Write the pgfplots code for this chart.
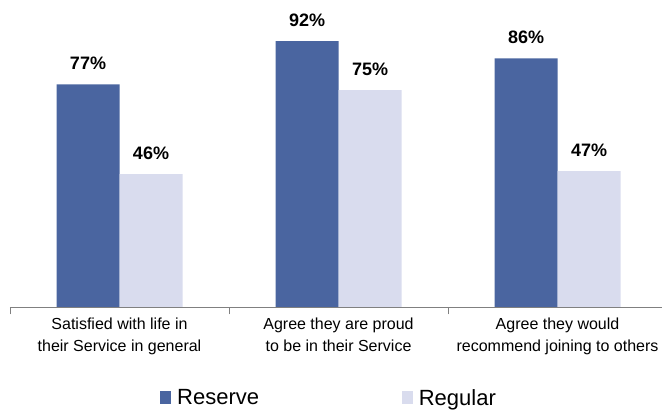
\documentclass[border=0pt]{standalone}
\usepackage{pgfplots}
\pgfplotsset{compat=1.18}
\usepackage{fontspec}
\setmainfont{Liberation Sans}
\definecolor{reserve}{RGB}{74,101,160}
\definecolor{regular}{RGB}{217,220,238}
\definecolor{axgray}{RGB}{128,128,128}
\begin{document}
\begin{tikzpicture}
\useasboundingbox (0,0) rectangle (496.5pt,307.5pt);
\begin{axis}[
  at={(7.5pt,77.25pt)}, anchor=south west,
  scale only axis,
  width=489pt, height=216.75pt,
  xmin=-0.5, xmax=2.477,
  ymin=0, ymax=100,
  axis y line=none,
  axis x line*=bottom,
  x axis line style={axgray, line width=0.6pt, -},
  xtick={0,1,2},
  xticklabels={{Satisfied with life in\\their Service in general},{Agree they are proud\\to be in their Service},{Agree they would\\recommend joining to others}},
  xticklabel style={align=center, font=\fontsize{12}{16.3}\selectfont, text=black, yshift=-5pt},
  major tick length=0pt,
  minor xtick={-0.5,0.5,1.5,2.5},
  minor tick length=5.5pt,
  tick align=outside,
  minor tick style={axgray, line width=0.6pt},
  ybar=0pt,
  bar width=47.25pt,
  clip=false,
  /pgf/number format/assume math mode=true,
  nodes near coords={\pgfmathprintnumber{\pgfplotspointmeta}\%},
  every node near coord/.append style={font=\fontsize{13.5}{16}\selectfont\bfseries, text=black, anchor=south, yshift=7.5pt},
  legend style={draw=none, fill=none, at={(0.230,-0.315)}, anchor=west, legend columns=2,
    font=\fontsize{16.5}{18}\selectfont, inner sep=0pt,
    /tikz/every even column/.append style={column sep=105pt},
    /tikz/every odd column/.append style={column sep=2.5pt}},
  legend image code/.code={\fill[#1] (0pt,-4.5pt) rectangle (8.25pt,5.25pt);},
]
\addplot[fill=reserve, draw=none] coordinates {(0,77) (1,92) (2,86)};
\addplot[fill=regular, draw=none] coordinates {(0,46) (1,75) (2,47)};
\legend{Reserve,Regular}
\end{axis}
\end{tikzpicture}
\end{document}
